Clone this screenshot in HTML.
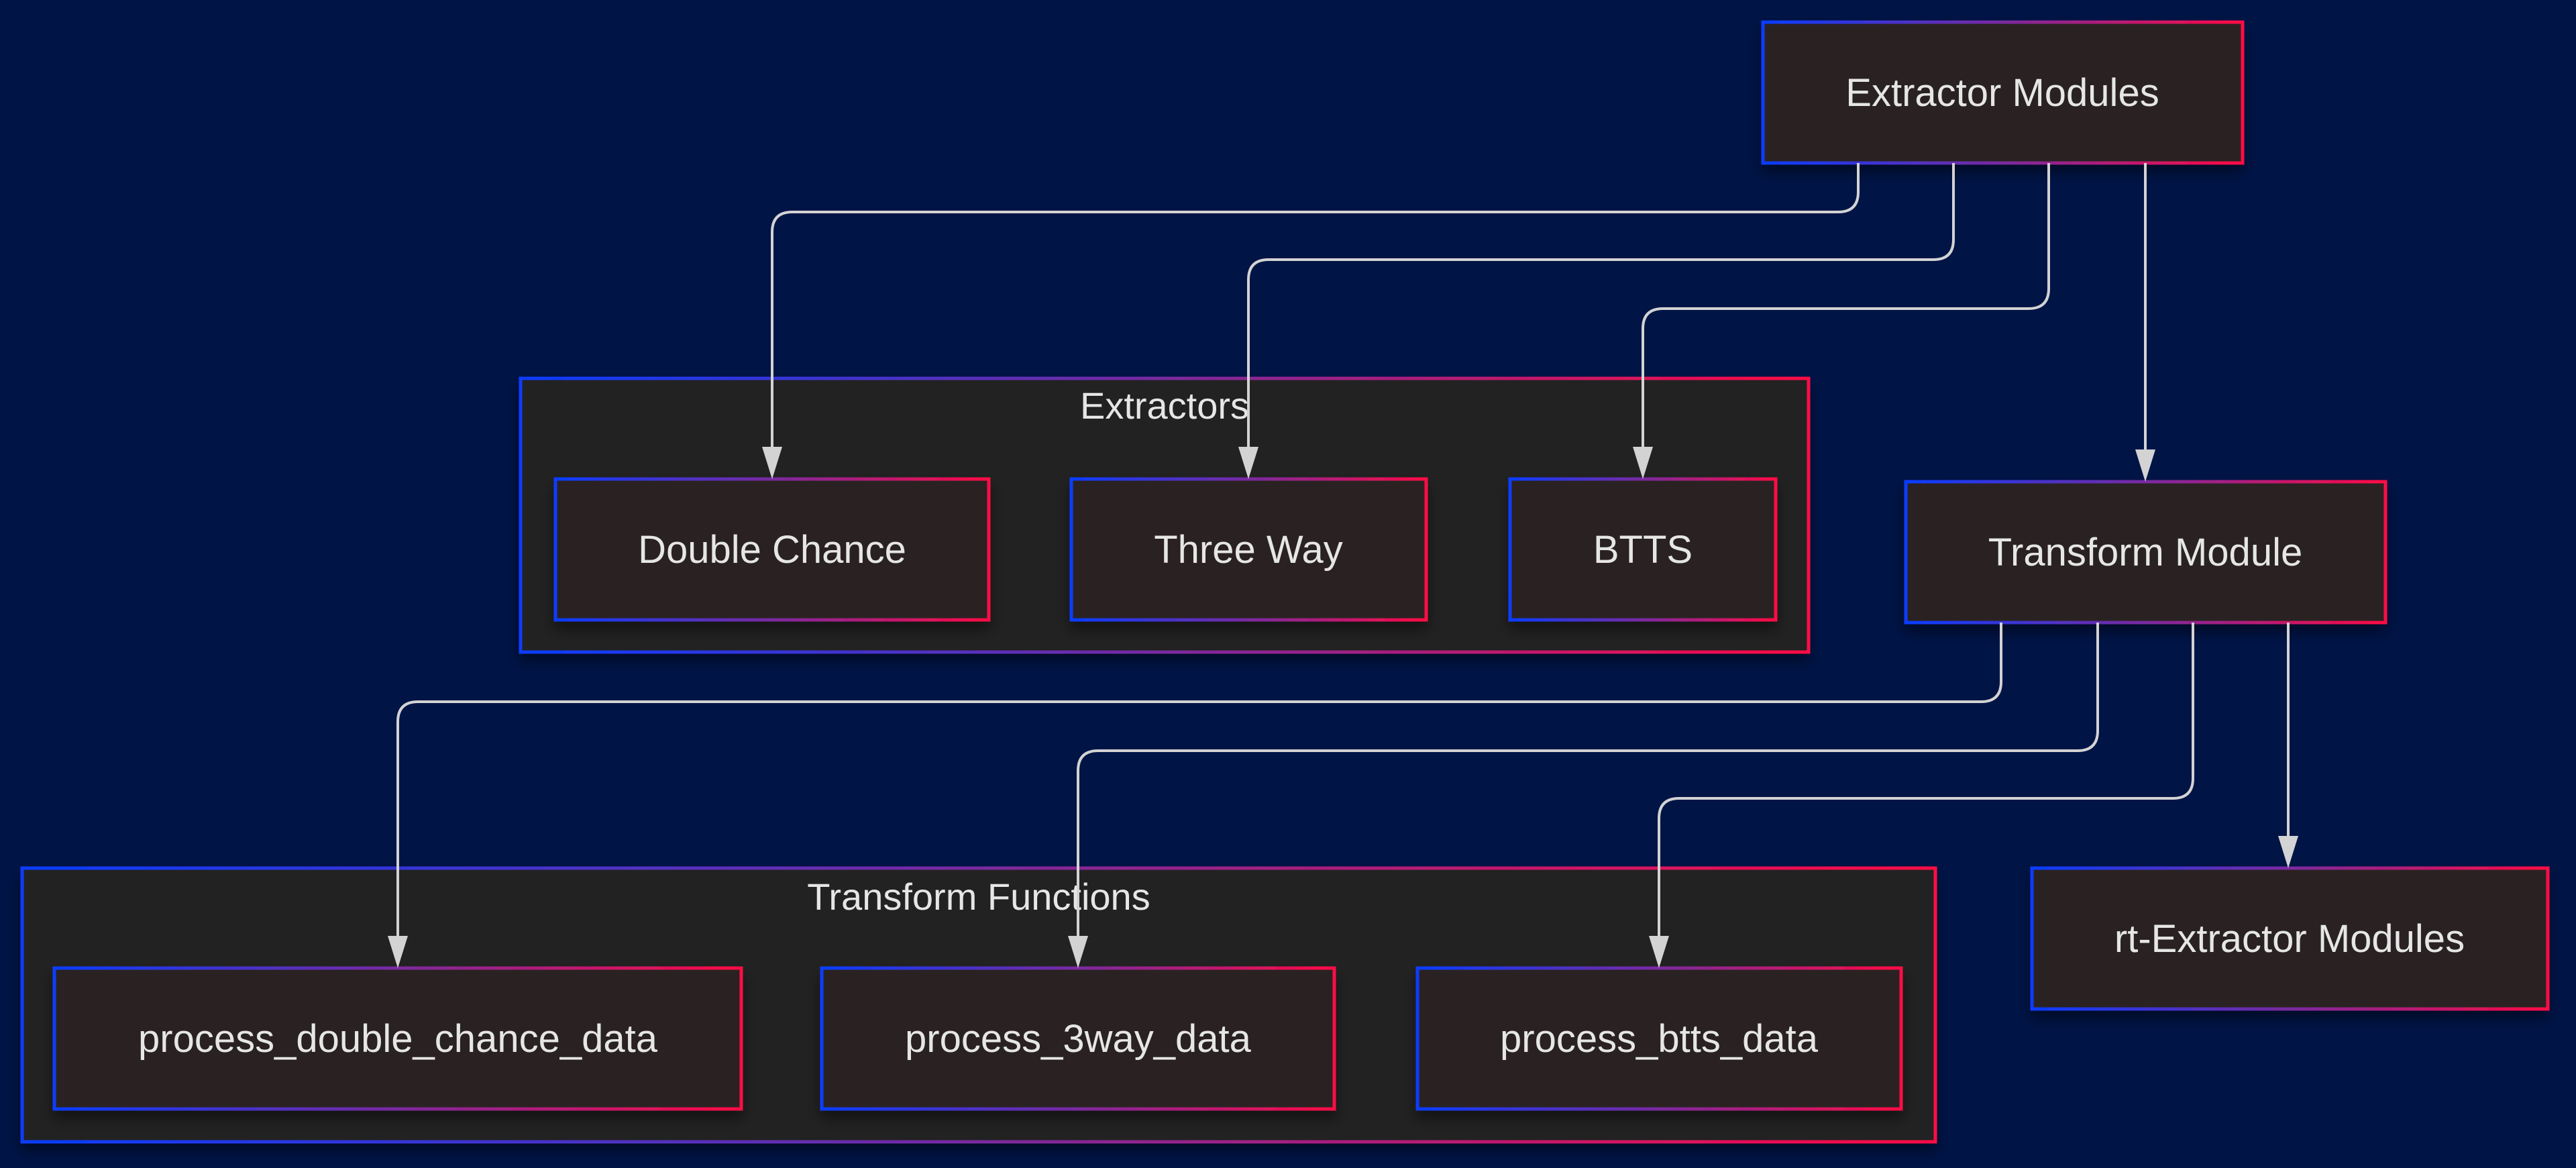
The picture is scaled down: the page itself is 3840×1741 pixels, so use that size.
<!DOCTYPE html>
<html><head><meta charset="utf-8"><style>
html,body{margin:0;padding:0;background:#001446;}
svg{display:block;}
text{font-family:"Liberation Sans",Arial,sans-serif;fill:#e6e6e6;}
</style></head><body>
<svg width="3840" height="1741" viewBox="0 0 3840 1741" xmlns="http://www.w3.org/2000/svg">
<defs>
<linearGradient id="g" x1="0" y1="0" x2="1" y2="0">
<stop offset="0" stop-color="#0a3cff"/><stop offset="0.5" stop-color="#7a2aa0"/><stop offset="1" stop-color="#ff0a45"/>
</linearGradient>
<filter id="sh" x="-10%" y="-10%" width="120%" height="130%">
<feDropShadow dx="0" dy="12" stdDeviation="10" flood-color="#000" flood-opacity="0.45"/>
</filter>
</defs>
<rect width="3840" height="1741" fill="#001446"/>

<!-- clusters -->
<rect x="776" y="564" width="1920" height="408" fill="#212121" stroke="url(#g)" stroke-width="5" filter="url(#sh)"/>
<text x="1736" y="624" font-size="56" text-anchor="middle">Extractors</text>
<rect x="33" y="1294" width="2852" height="408" fill="#212121" stroke="url(#g)" stroke-width="5" filter="url(#sh)"/>
<text x="1459" y="1356" font-size="56" text-anchor="middle">Transform Functions</text>

<!-- nodes -->
<g stroke="url(#g)" stroke-width="5" fill="#2b2020" filter="url(#sh)">
<rect x="2628" y="33" width="715" height="210"/>
<rect x="828" y="714" width="646" height="210"/>
<rect x="1597" y="714" width="529" height="210"/>
<rect x="2251" y="714" width="396" height="210"/>
<rect x="2841" y="718" width="715" height="210"/>
<rect x="81" y="1443" width="1024" height="210"/>
<rect x="1225" y="1443" width="764" height="210"/>
<rect x="2113" y="1443" width="721" height="210"/>
<rect x="3029" y="1294" width="769" height="210"/>
</g>
<g font-size="58" text-anchor="middle">
<text x="2985" y="158">Extractor Modules</text>
<text x="1151" y="839">Double Chance</text>
<text x="1861" y="839">Three Way</text>
<text x="2449" y="839">BTTS</text>
<text x="3198" y="843">Transform Module</text>
<text x="593" y="1568">process_double_chance_data</text>
<text x="1607" y="1568">process_3way_data</text>
<text x="2473" y="1568">process_btts_data</text>
<text x="3413" y="1419">rt-Extractor Modules</text>
</g>

<!-- edges -->
<g fill="none" stroke="#d3d3d3" stroke-width="4">
<path d="M2770 243 V286 Q2770 316 2740 316 H1181 Q1151 316 1151 346 V668"/>
<path d="M2912 243 V357 Q2912 387 2882 387 H1891 Q1861 387 1861 417 V668"/>
<path d="M3054 243 V430 Q3054 460 3024 460 H2479 Q2449 460 2449 490 V668"/>
<path d="M3198 243 V672"/>
<path d="M2983 928 V1016 Q2983 1046 2953 1046 H623 Q593 1046 593 1076 V1398"/>
<path d="M3127 928 V1089 Q3127 1119 3097 1119 H1637 Q1607 1119 1607 1149 V1398"/>
<path d="M3269 928 V1160 Q3269 1190 3239 1190 H2503 Q2473 1190 2473 1220 V1398"/>
<path d="M3411 928 V1248"/>
</g>
<g fill="#d3d3d3">
<polygon points="1136,666 1166,666 1151,714"/>
<polygon points="1846,666 1876,666 1861,714"/>
<polygon points="2434,666 2464,666 2449,714"/>
<polygon points="3183,670 3213,670 3198,718"/>
<polygon points="578,1395 608,1395 593,1443"/>
<polygon points="1592,1395 1622,1395 1607,1443"/>
<polygon points="2458,1395 2488,1395 2473,1443"/>
<polygon points="3396,1246 3426,1246 3411,1294"/>
</g>
</svg>
</body></html>
